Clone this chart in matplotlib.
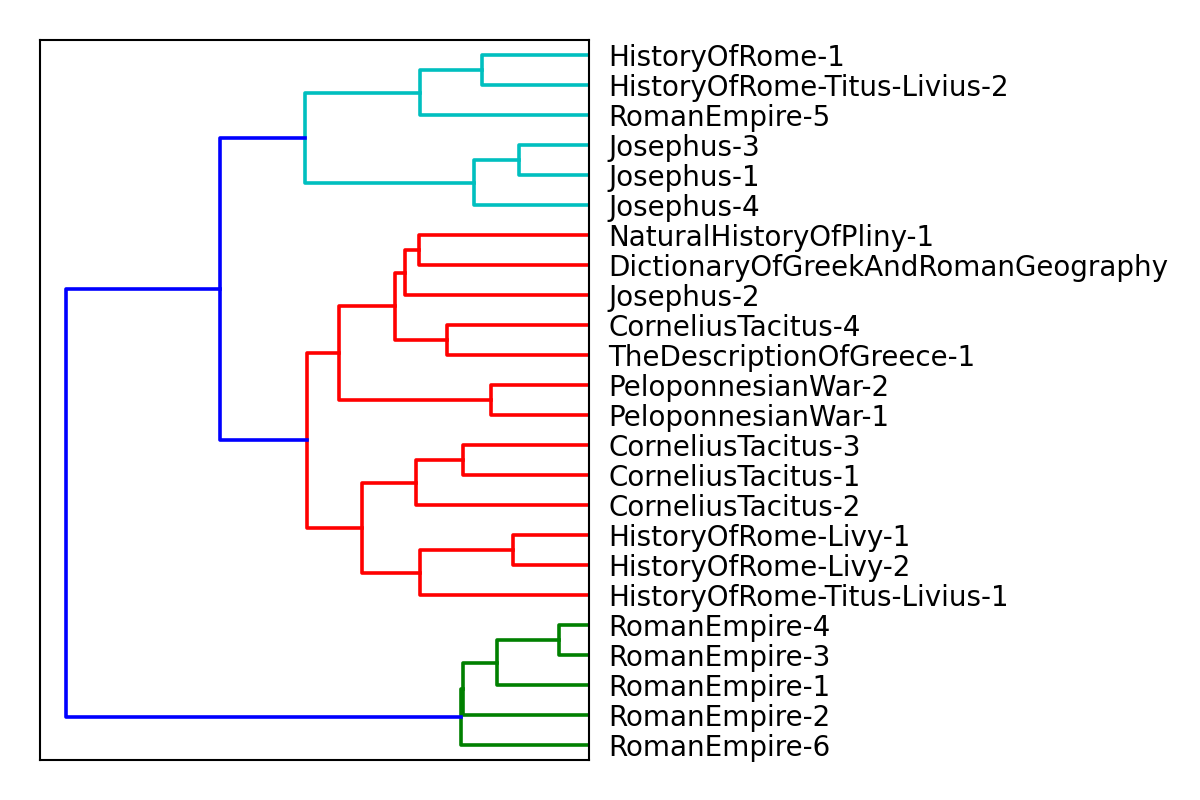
import matplotlib
matplotlib.use("Agg")
import matplotlib.pyplot as plt

# leaf labels, top to bottom
labels = [
    "HistoryOfRome-1", "HistoryOfRome-Titus-Livius-2", "RomanEmpire-5",
    "Josephus-3", "Josephus-1", "Josephus-4",
    "NaturalHistoryOfPliny-1", "DictionaryOfGreekAndRomanGeography", "Josephus-2",
    "CorneliusTacitus-4", "TheDescriptionOfGreece-1",
    "PeloponnesianWar-2", "PeloponnesianWar-1",
    "CorneliusTacitus-3", "CorneliusTacitus-1", "CorneliusTacitus-2",
    "HistoryOfRome-Livy-1", "HistoryOfRome-Livy-2", "HistoryOfRome-Titus-Livius-1",
    "RomanEmpire-4", "RomanEmpire-3", "RomanEmpire-1", "RomanEmpire-2", "RomanEmpire-6",
]

# linkage rows: leaves are 0..23, merge k gets id 24+k
merge_a = [0, 24, 3, 26, 25,
           6, 29, 9, 30, 11, 32, 13, 35, 16, 37, 36, 34,
           28, 19, 42, 43, 44, 41]
merge_b = [1, 2, 4, 5, 27,
           7, 8, 10, 31, 12, 33, 14, 15, 17, 18, 38, 39,
           40, 20, 21, 22, 23, 45]
merge_h = [1.07, 1.69, 0.70, 1.15, 2.84,
           1.70, 1.84, 1.42, 1.94, 0.98, 2.50, 1.26, 1.73, 0.76, 1.69, 2.27, 2.82,
           3.69, 0.30, 0.92, 1.26, 1.28, 5.23]
merge_c = ["c"] * 5 + ["r"] * 12 + ["b"] + ["g"] * 4 + ["b"]

n = len(labels)
pos = {i: 5 + 10 * i for i in range(n)}
height = {i: 0.0 for i in range(n)}

fig = plt.figure(figsize=(12, 8), dpi=100)
ax = fig.add_axes([0.0333, 0.05, 0.4575, 0.9])

for k in range(len(merge_h)):
    a, b, h, c = merge_a[k], merge_b[k], merge_h[k], merge_c[k]
    ax.plot([height[a], h, h, height[b]], [pos[a], pos[a], pos[b], pos[b]],
            color=c, lw=2.6)
    pos[n + k] = (pos[a] + pos[b]) / 2
    height[n + k] = h

ax.set_xlim(max(merge_h) * 1.05, 0)
ax.set_ylim(10 * n, 0)
ax.set_xticks([])
ax.yaxis.tick_right()
ax.set_yticks([5 + 10 * i for i in range(n)])
ax.set_yticklabels(labels, fontsize=20)
ax.tick_params(axis="y", length=0, pad=14)
for s in ax.spines.values():
    s.set_linewidth(1.5)

fig.savefig("out.png", dpi=100)
